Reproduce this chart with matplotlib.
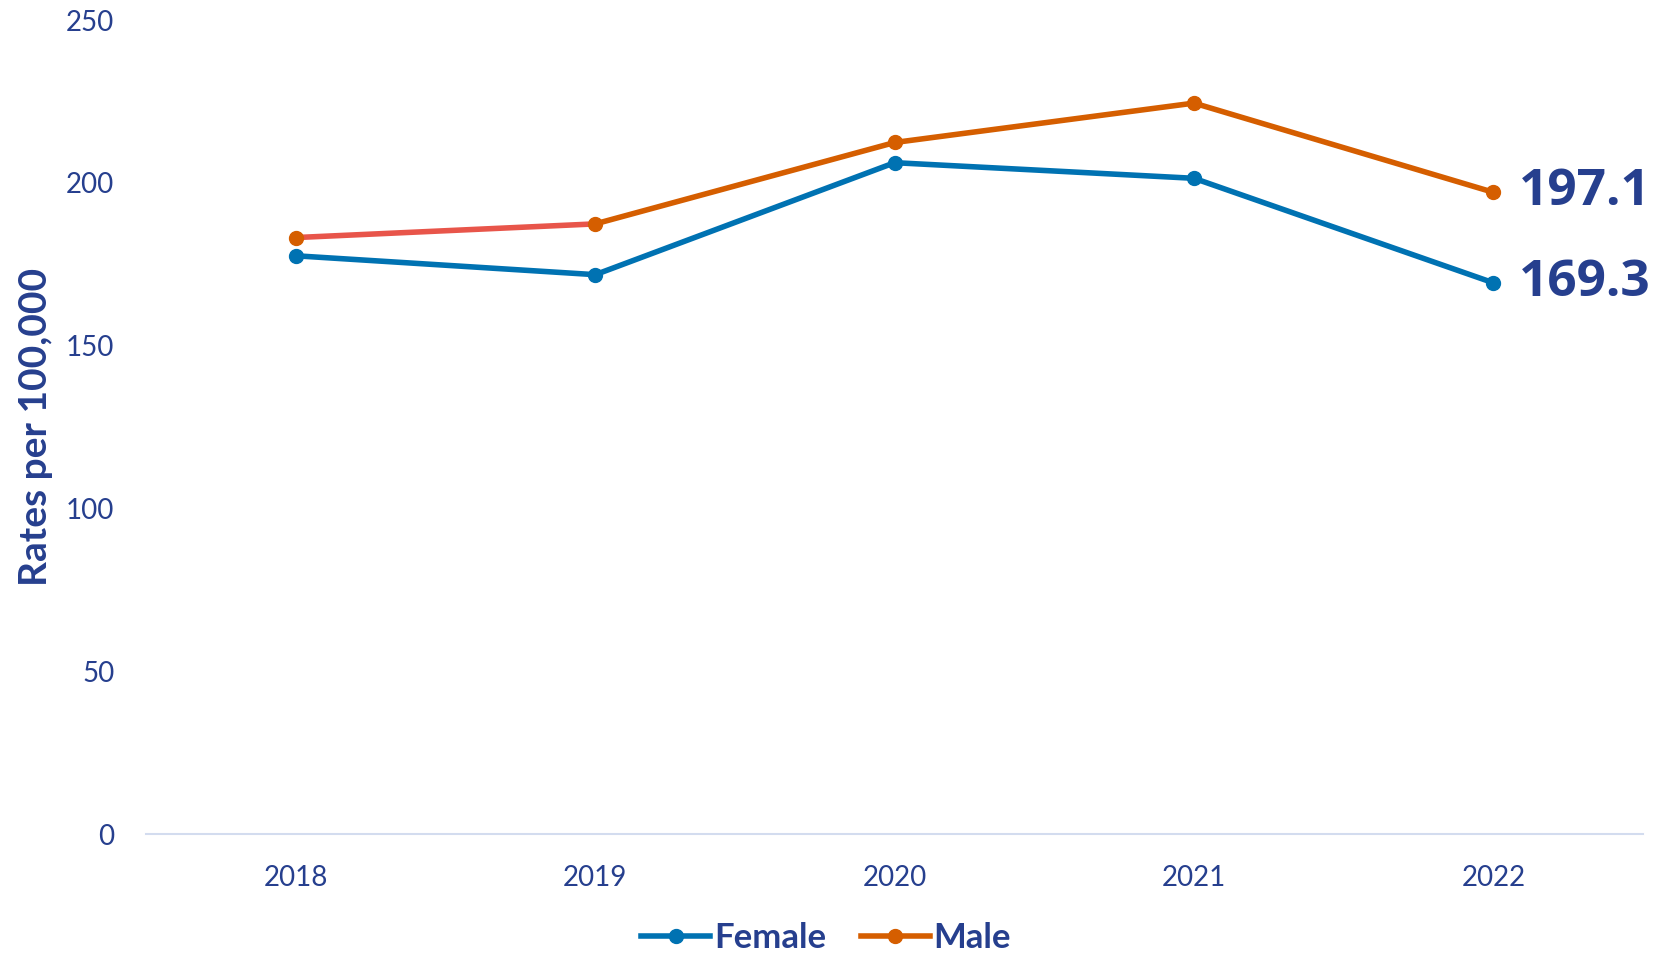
import matplotlib
matplotlib.use("Agg")
import matplotlib.pyplot as plt
from matplotlib.lines import Line2D

years = ["2018", "2019", "2020", "2021", "2022"]
female = [177.6, 171.8, 206.2, 201.4, 169.3]
male = [183.2, 187.4, 212.4, 224.5, 197.1]

navy = "#263F8E"
blue = "#0072B2"
orange = "#D55E00"
red = "#E8554A"

plt.rcParams["font.family"] = ["Lato", "DejaVu Sans"]

fig = plt.figure(figsize=(16.62, 9.56), dpi=100)
ax = fig.add_axes([0.088, 0.1276, 0.9006, 0.8514])

x = list(range(len(years)))
ax.plot(x, female, color=blue, lw=4, marker="o", ms=10, zorder=3)
# first male segment is drawn in a lighter red
ax.plot(x[:2], male[:2], color=red, lw=4, zorder=2)
ax.plot(x[1:], male[1:], color=orange, lw=4, zorder=2)
ax.plot(x, male, ls="none", color=orange, marker="o", ms=10, zorder=3)

ax.text(x[-1] + 0.085, male[-1], f"{male[-1]:.1f}", color=navy, fontsize=37,
        fontweight="bold", va="center", ha="left", family="Open Sans")
ax.text(x[-1] + 0.085, female[-1], f"{female[-1]:.1f}", color=navy, fontsize=37,
        fontweight="bold", va="center", ha="left", family="Open Sans")

ax.set_xlim(-0.5, 4.5)
ax.set_ylim(0, 250)
ax.set_yticks([0, 50, 100, 150, 200, 250])
ax.set_xticks(x)
ax.set_xticklabels(years)
ax.tick_params(axis="both", length=0, labelsize=20, labelcolor=navy)
ax.tick_params(axis="y", pad=23)
ax.tick_params(axis="x", pad=22)
for s in ["top", "right", "left"]:
    ax.spines[s].set_visible(False)
ax.spines["bottom"].set_color("#D3DCEF")
ax.spines["bottom"].set_linewidth(1.5)

ax.set_ylabel("Rates per 100,000", fontsize=28, fontweight="bold", color=navy)
ax.yaxis.set_label_coords(-0.062, 0.5)

handles = [Line2D([], [], color=blue, lw=4, marker="o", ms=10),
           Line2D([], [], color=orange, lw=4, marker="o", ms=10)]
leg = fig.legend(handles, ["Female", "Male"], loc="center",
                 bbox_to_anchor=(0.497, 0.019), ncol=2, frameon=False,
                 handlelength=2.0, handletextpad=0.1, columnspacing=1.0,
                 prop={"size": 25, "weight": "bold"})
for t in leg.get_texts():
    t.set_color(navy)

fig.savefig("out.png", dpi=100)
